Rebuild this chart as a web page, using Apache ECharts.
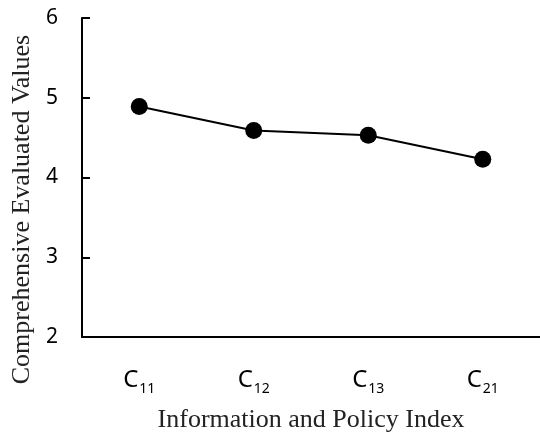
<!DOCTYPE html>
<html>
<head>
<meta charset="utf-8">
<script src="https://cdn.jsdelivr.net/npm/echarts@6/dist/echarts.min.js"></script>
<style>
  html, body { margin: 0; padding: 0; background: #fff; }
  #myChart { width: 540px; height: 436px; }
</style>
</head>
<body>
<div id="myChart"></div>
<script>
  // 数据
  let categories = ['11', '12', '13', '21'];
  let values = [4.89, 4.59, 4.53, 4.23];
  let yTicks = [2, 3, 4, 5, 6];

  let myChart = echarts.init(document.getElementById('myChart'));
  myChart.setOption({
    animation: false,
    grid: {
      left: 82,
      right: 0,
      top: 18,
      bottom: 99,
      containLabel: false,
      outerBoundsMode: 'none'
    },
    xAxis: {
      type: 'category',
      data: categories,
      name: 'Information and Policy Index',
      nameLocation: 'middle',
      nameGap: 70,
      nameTextStyle: {
        fontFamily: 'Liberation Serif',
        fontSize: 26,
        color: '#222'
      },
      axisLine: { lineStyle: { color: '#000', width: 2 } },
      axisTick: { show: false },
      axisLabel: {
        margin: 31,
        formatter: function (v) { return '{c|C}{s|' + v + '}'; },
        rich: {
          c: { fontFamily: 'Noto Sans', fontSize: 24, color: '#000', verticalAlign: 'bottom' },
          s: { fontFamily: 'Noto Sans', fontSize: 14, color: '#000', verticalAlign: 'bottom', padding: [0, 0, -4, 1] }
        }
      }
    },
    yAxis: {
      type: 'value',
      min: yTicks[0],
      max: yTicks[yTicks.length - 1],
      interval: 1,
      name: 'Comprehensive Evaluated Values',
      nameLocation: 'middle',
      nameGap: 47,
      nameTextStyle: {
        fontFamily: 'Liberation Serif',
        fontSize: 26,
        color: '#222',
        padding: [0, 64, 0, 0]
      },
      axisLine: { show: true, lineStyle: { color: '#000', width: 2 } },
      axisTick: { show: true, inside: true, length: 8, lineStyle: { color: '#000', width: 2 } },
      splitLine: { show: false },
      axisLabel: {
        margin: 24,
        fontFamily: 'Noto Sans',
        fontSize: 21,
        color: '#000'
      }
    },
    series: [{
      type: 'line',
      data: values,
      symbol: 'circle',
      symbolSize: 17,
      itemStyle: { color: '#000' },
      lineStyle: { color: '#000', width: 2 }
    }]
  });
</script>
</body>
</html>
